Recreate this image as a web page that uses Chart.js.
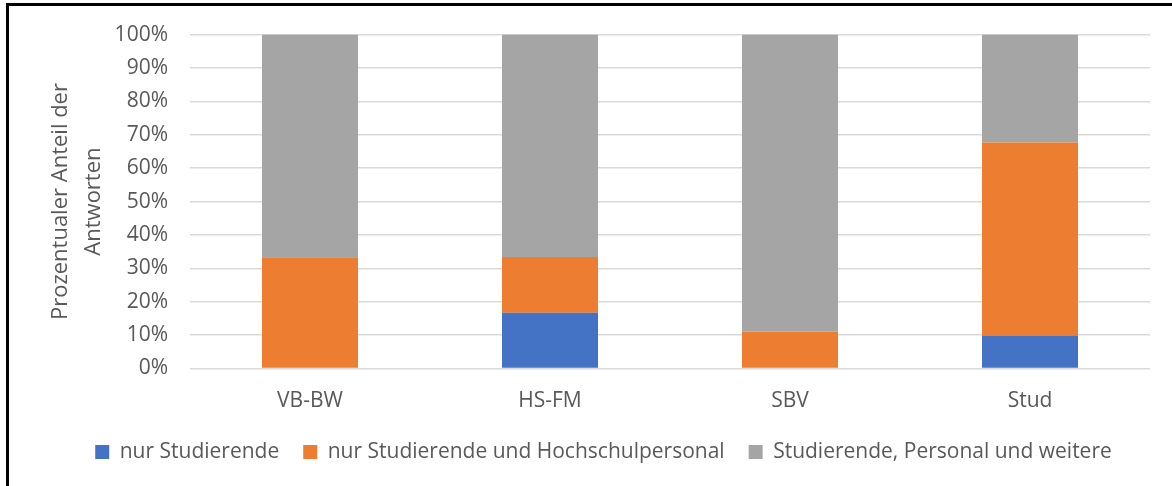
<!DOCTYPE html>
<html>
<head>
<meta charset="utf-8">
<script src="https://cdn.jsdelivr.net/npm/chart.js@4"></script>
<style>
  html, body { margin: 0; padding: 0; background: #fff; }
  #wrap { position: relative; width: 1172px; height: 486px; overflow: hidden; background: #fff; }
  #c { position: absolute; left: 0; top: 0; }
  #frame { position: absolute; left: 6px; top: 3px; width: 1200px; height: 600px;
           border-top: 3px solid #000; border-left: 3px solid #000; pointer-events: none; }
</style>
</head>
<body>
<div id="wrap">
  <canvas id="c" width="1172" height="486"></canvas>
  <div id="frame"></div>
</div>
<script>
const categories = ['VB-BW', 'HS-FM', 'SBV', 'Stud'];
const seriesNames = ['nur Studierende', 'nur Studierende und Hochschulpersonal', 'Studierende, Personal und weitere'];
const nurStudierende = [0, 16.7, 0, 9.7];
const studierendeUndPersonal = [33.3, 16.7, 11.1, 58.0];
const studierendePersonalWeitere = [66.7, 66.6, 88.9, 32.3];
const yTicks = [0, 10, 20, 30, 40, 50, 60, 70, 80, 90, 100];
const yTitle = ['Prozentualer Anteil der', 'Antworten'];

const FONT = "'Open Sans', sans-serif";
const TXT = '#595959';

new Chart(document.getElementById('c'), {
  type: 'bar',
  data: {
    labels: categories,
    datasets: [
      { label: seriesNames[0], data: nurStudierende, backgroundColor: '#4472C4' },
      { label: seriesNames[1], data: studierendeUndPersonal, backgroundColor: '#ED7D31' },
      { label: seriesNames[2], data: studierendePersonalWeitere, backgroundColor: '#A5A5A5' }
    ]
  },
  options: {
    responsive: false,
    animation: false,
    devicePixelRatio: 1,
    layout: { padding: { top: 33, right: 22, bottom: 13.5, left: 57 } },
    datasets: { bar: { categoryPercentage: 1, barPercentage: 0.4 } },
    plugins: {
      tooltip: { enabled: false },
      legend: {
        position: 'bottom',
        labels: {
          font: { family: FONT, size: 21 },
          color: TXT,
          boxWidth: 14,
          boxHeight: 14,
          padding: 24
        }
      }
    },
    scales: {
      x: {
        stacked: true,
        grid: { display: false },
        border: { display: false },
        afterFit: (scale) => { scale.height = 49; },
        ticks: { font: { family: FONT, size: 21 }, color: TXT, padding: 12, maxRotation: 0 }
      },
      y: {
        stacked: true,
        min: 0,
        max: 100,
        afterBuildTicks: (scale) => { scale.ticks = yTicks.map(v => ({ value: v })); },
        afterFit: (scale) => { scale.width = 133; },
        grid: { color: '#d9d9d9', lineWidth: 1.5, drawTicks: false },
        border: { display: false },
        ticks: {
          font: { family: FONT, size: 21 },
          color: TXT,
          padding: 22,
          callback: (v) => v + '%'
        },
        title: {
          display: true,
          text: yTitle,
          font: { family: FONT, size: 22, lineHeight: 1.5 },
          color: TXT,
          padding: { top: -13, bottom: 0 }
        }
      }
    }
  }
});
</script>
</body>
</html>
